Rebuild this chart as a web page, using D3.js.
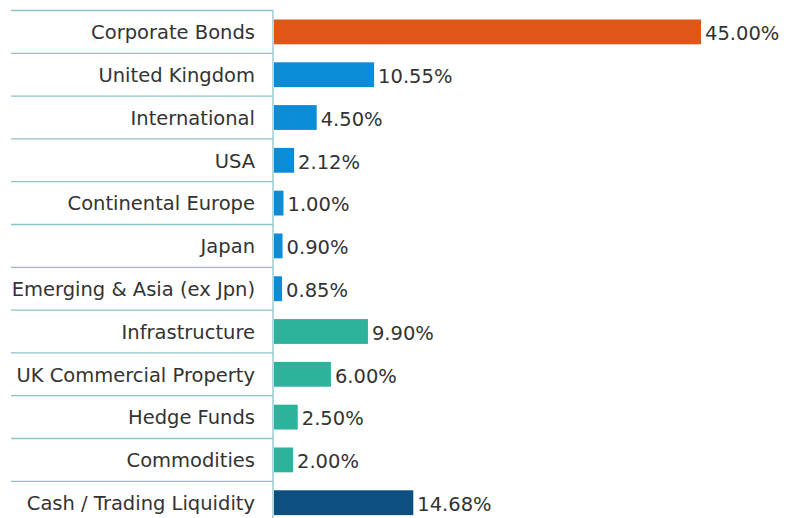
<!DOCTYPE html>
<html>
<head>
<meta charset="utf-8">
<script src="https://cdn.jsdelivr.net/npm/d3@7"></script>
<style>
  body { margin: 0; background: #fff; }
  text { font-family: "DejaVu Sans", Verdana, sans-serif; }
</style>
</head>
<body>
<div id="chart"></div>
<script>
let categories = ["Corporate Bonds", "United Kingdom", "International", "USA", "Continental Europe", "Japan",
  "Emerging & Asia (ex Jpn)", "Infrastructure", "UK Commercial Property", "Hedge Funds", "Commodities", "Cash / Trading Liquidity"]
let values = [45.00, 10.55, 4.50, 2.12, 1.00, 0.90, 0.85, 9.90, 6.00, 2.50, 2.00, 14.68]
let groups = ["bonds", "equity", "equity", "equity", "equity", "equity", "equity", "alt", "alt", "alt", "alt", "cash"]

let groupColor = { bonds: "#e05619", equity: "#0a8dd6", alt: "#2db29c", cash: "#0d4f81" }

let width = 786, height = 518
let margin = { top: 10.5, left: 273, right: 86 }
let rowH = 42.8

let svg = d3.select("#chart").append("svg")
  .attr("width", width)
  .attr("height", height)

let x = d3.scaleLinear()
  .domain([0, 45])
  .range([margin.left, width - margin.right])

let y = d3.scaleBand()
  .domain(categories)
  .range([margin.top, margin.top + rowH * categories.length])
  .paddingInner(0.42)
  .paddingOuter(0.21)

// row separators on the label side
let lines = categories.map((c, i) => margin.top + i * rowH)
lines.push(margin.top + categories.length * rowH)
svg.selectAll("line.sep")
  .data(lines)
  .enter()
  .append("line")
  .attr("class", "sep")
  .attr("x1", 11)
  .attr("x2", margin.left)
  .attr("y1", d => d)
  .attr("y2", d => d)
  .attr("stroke", "#8cc4cc")
  .attr("stroke-width", 1.3)

svg.append("line")
  .attr("x1", margin.left)
  .attr("x2", margin.left)
  .attr("y1", margin.top)
  .attr("y2", height)
  .attr("stroke", "#8cc4cc")
  .attr("stroke-width", 1.3)

// bars
svg.selectAll("rect")
  .data(categories)
  .enter()
  .append("rect")
  .attr("x", x(0) + 1)
  .attr("y", d => y(d))
  .attr("width", (d, i) => x(values[i]) - x(0))
  .attr("height", y.bandwidth())
  .attr("fill", (d, i) => groupColor[groups[i]])

// category labels
svg.selectAll("text.cat")
  .data(categories)
  .enter()
  .append("text")
  .attr("class", "cat")
  .attr("x", margin.left - 18)
  .attr("y", d => y(d) + y.bandwidth() / 2 + 0.5)
  .attr("dy", "0.35em")
  .attr("text-anchor", "end")
  .attr("font-size", "19.5px")
  .attr("fill", "#333")
  .text(d => d)

// value labels
svg.selectAll("text.val")
  .data(categories)
  .enter()
  .append("text")
  .attr("class", "val")
  .attr("x", (d, i) => x(values[i]) + 5)
  .attr("y", d => y(d) + y.bandwidth() / 2 + 1.5)
  .attr("dy", "0.35em")
  .attr("font-size", "19.5px")
  .attr("fill", "#333")
  .text((d, i) => values[i].toFixed(2) + "%")
</script>
</body>
</html>
